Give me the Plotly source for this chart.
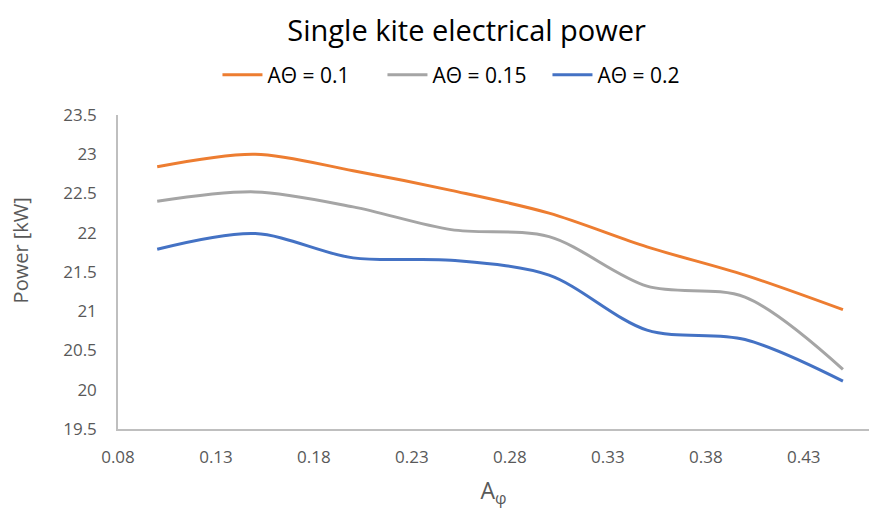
import plotly.graph_objects as go

x_vals = [0.10, 0.15, 0.20, 0.25, 0.30, 0.35, 0.40, 0.45]
orange_vals = [22.84, 23.00, 22.79, 22.54, 22.25, 21.82, 21.46, 21.02]
gray_vals = [22.40, 22.52, 22.33, 22.04, 21.95, 21.32, 21.18, 20.26]
blue_vals = [21.79, 21.99, 21.68, 21.65, 21.46, 20.76, 20.64, 20.11]
series_names = ["AΘ = 0.1", "AΘ = 0.15", "AΘ = 0.2"]
x_ticks = [0.08, 0.13, 0.18, 0.23, 0.28, 0.33, 0.38, 0.43]
y_ticks = [19.5, 20, 20.5, 21, 21.5, 22, 22.5, 23, 23.5]

colors = ["#ED7D31", "#A5A5A5", "#4472C4"]
FONT = "Open Sans"

fig = go.Figure()
for name, vals, c in zip(series_names, [orange_vals, gray_vals, blue_vals], colors):
    fig.add_trace(go.Scatter(x=x_vals, y=vals, mode="lines", name=name,
                             line=dict(color=c, width=3, shape="spline", smoothing=0.9)))

fig.update_layout(
    width=869, height=512,
    margin=dict(l=118, r=0, t=115, b=83),
    paper_bgcolor="white", plot_bgcolor="white",
    font=dict(family=FONT, color="#595959"),
    title=dict(text="Single kite electrical power", x=0.537, xanchor="center",
               y=0.94, yanchor="middle", font=dict(size=29, color="#000000", family=FONT)),
    legend=dict(orientation="h", x=0.462, xanchor="center", y=1.127, yanchor="middle",
                font=dict(size=21, color="#000000", family=FONT), itemwidth=40,
                entrywidth=110, entrywidthmode="pixels",
                traceorder="normal"),
    showlegend=True,
    annotations=[dict(text="Power [kW]", textangle=-90, xref="paper", yref="paper",
                      x=-0.13, y=0.57, xanchor="center", yanchor="middle", showarrow=False,
                      font=dict(size=20, color="#595959", family=FONT))],
)
fig.update_xaxes(range=[0.08, 0.4633], tickvals=x_ticks,
                 ticktext=[f"{v:.2f}" for v in x_ticks],
                 showgrid=False, zeroline=False, showline=True, linecolor="#BFBFBF", linewidth=1.5,
                 ticks="", ticklabelstandoff=12, tickfont=dict(size=17, color="#595959"),
                 title=dict(text="A<sub>φ</sub>", font=dict(size=23, color="#595959"), standoff=16))
fig.update_yaxes(range=[19.5, 23.5], tickvals=y_ticks,
                 ticktext=[f"{v:g}" for v in y_ticks],
                 showgrid=False, zeroline=False, showline=True, linecolor="#BFBFBF", linewidth=1.5,
                 ticks="", ticklabelstandoff=16, tickfont=dict(size=17, color="#595959"))

fig.write_html("out.html")
